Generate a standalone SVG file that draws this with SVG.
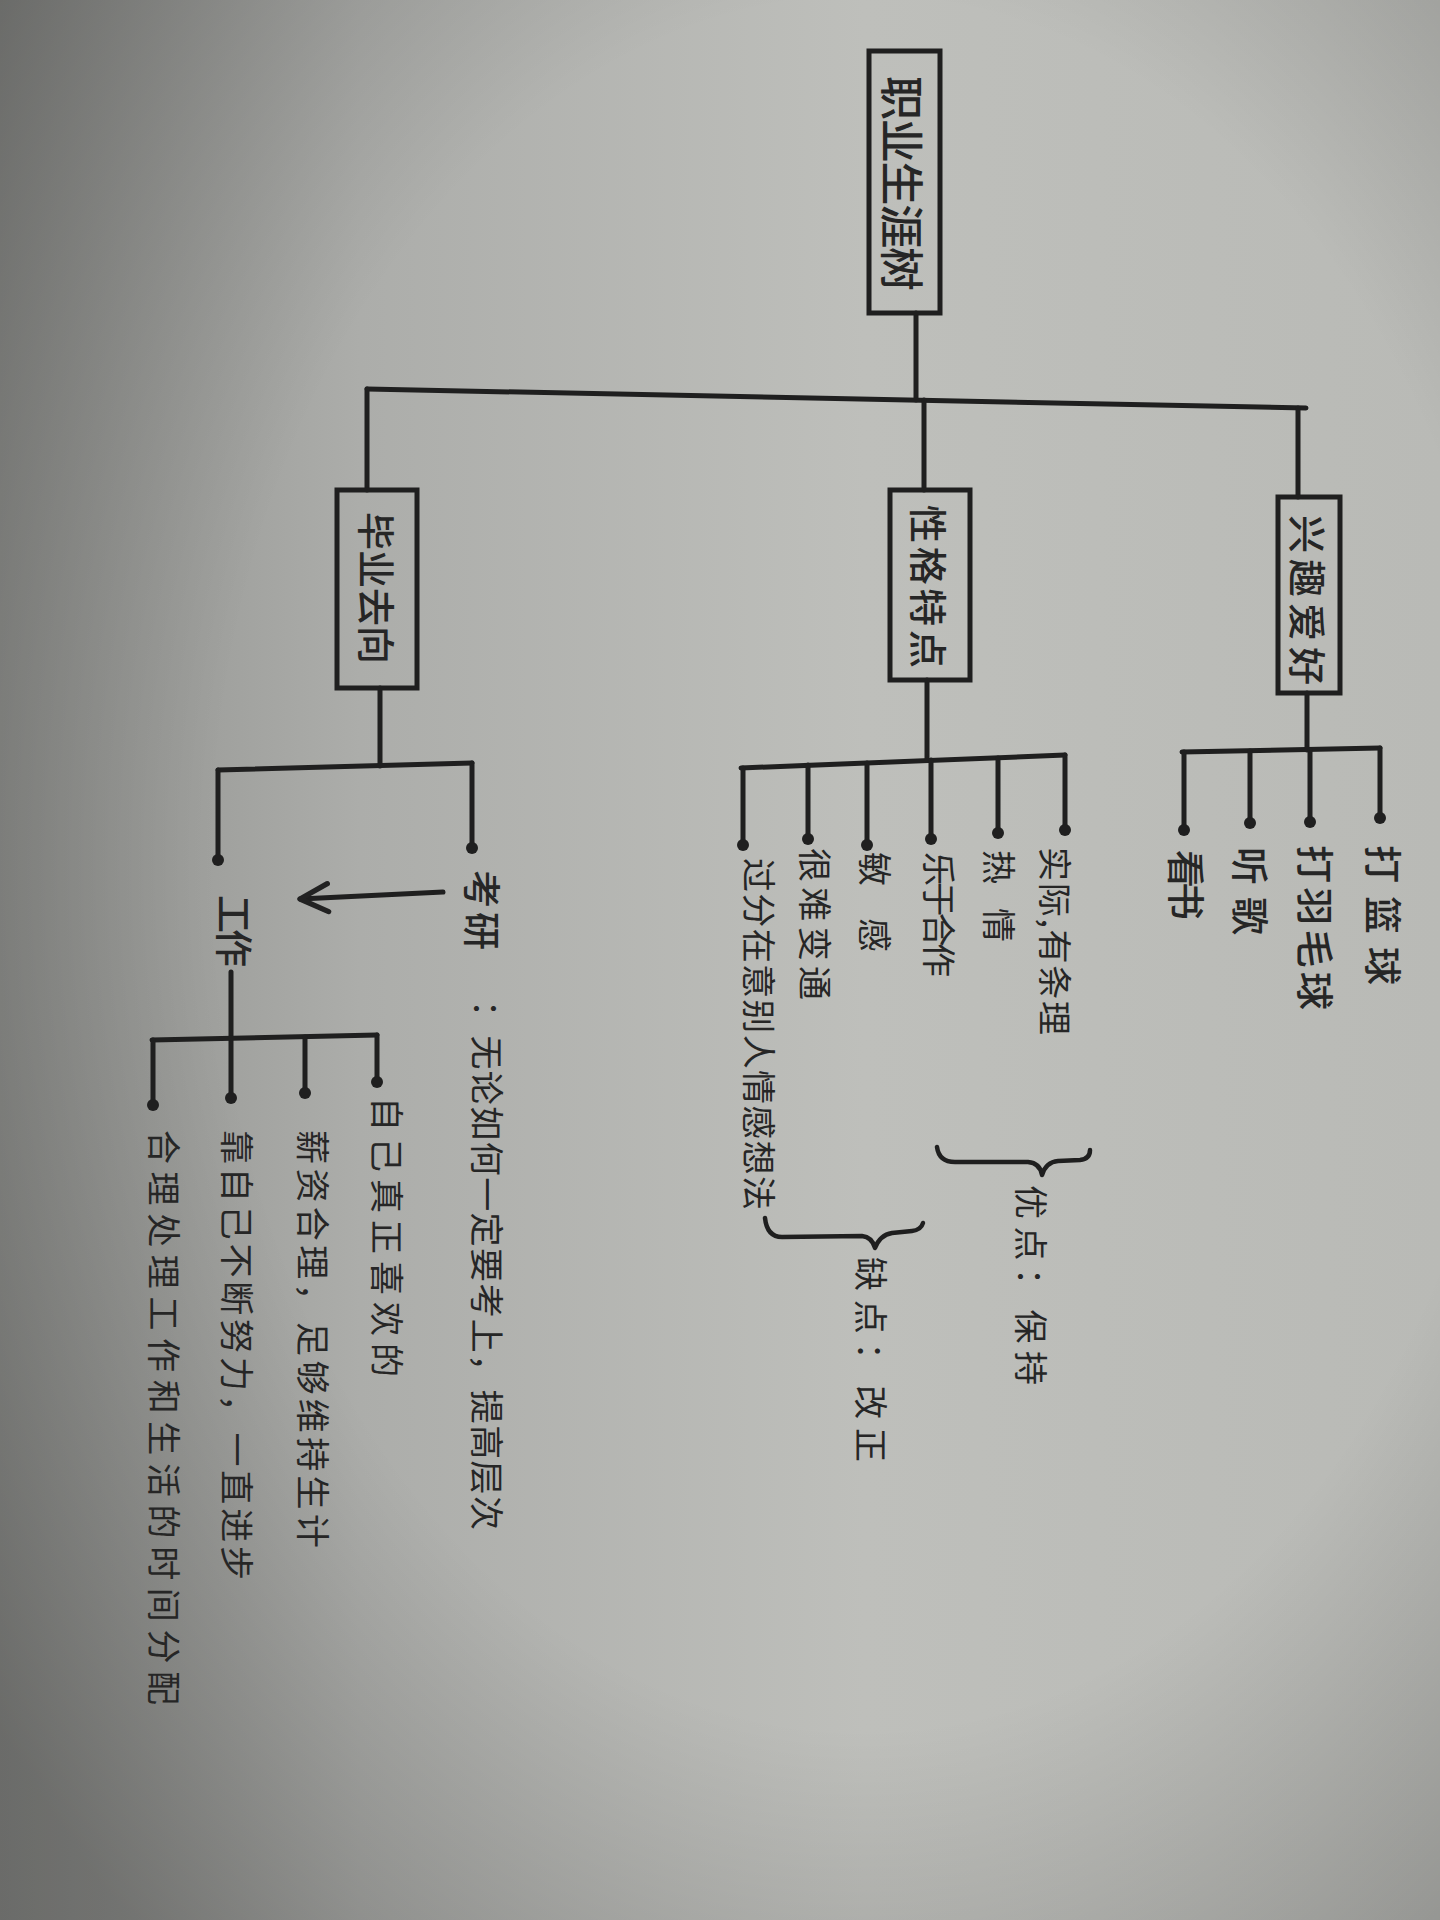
<svg xmlns="http://www.w3.org/2000/svg" width="1440" height="1920" viewBox="0 0 1440 1920">
<defs>
<linearGradient id="paper" x1="0" y1="0" x2="1" y2="0">
<stop offset="0" stop-color="#8e8f8c"/>
<stop offset="0.25" stop-color="#acadaa"/>
<stop offset="0.6" stop-color="#bebfbb"/>
<stop offset="1" stop-color="#b9bab6"/>
</linearGradient>
<radialGradient id="vig" cx="0.6" cy="0.45" r="0.75">
<stop offset="0.6" stop-color="#000" stop-opacity="0"/>
<stop offset="1" stop-color="#000" stop-opacity="0.25"/>
</radialGradient>
<marker id="arr" viewBox="0 0 20 20" refX="18" refY="10" markerWidth="7" markerHeight="7" orient="auto" markerUnits="strokeWidth">
<path d="M2 2 L18 10 L2 18" fill="none" stroke="#222" stroke-width="3" stroke-linecap="round" stroke-linejoin="round"/>
</marker>
</defs>
<style>
.ln{stroke:#1f1f1f;stroke-width:5;fill:none;stroke-linecap:round;stroke-linejoin:round}
.br{stroke:#1f1f1f;stroke-width:4.5;fill:none;stroke-linecap:round;stroke-linejoin:round}
.box{fill:none;stroke:#1f1f1f;stroke-width:5}
.dot{fill:#1f1f1f}
.t{font-family:"Noto Sans CJK SC","Noto Sans CJK JP",sans-serif;fill:#262626;dominant-baseline:central}
.h{font-size:44px;font-weight:500}
.m{font-size:38px;font-weight:500}
.s{font-size:34px}
</style>
<rect width="1440" height="1920" fill="url(#paper)"/>
<rect width="1440" height="1920" fill="url(#vig)"/>

<g id="connectors">
<path class="ln" d="M916 313 L916 400"/>
<path class="ln" d="M367 389 L1306 408"/>
<path class="ln" d="M367 389 L367 490"/>
<path class="ln" d="M924 400 L924 490"/>
<path class="ln" d="M1298 408 L1298 497"/>
<path class="ln" d="M1307 693 L1307 750"/>
<path class="ln" d="M1182 752 L1380 748"/>
<path class="ln" d="M1184 752 L1184 830"/>
<path class="ln" d="M1250 751 L1250 823"/>
<path class="ln" d="M1310 750 L1310 822"/>
<path class="ln" d="M1380 748 L1380 818"/>
<circle class="dot" cx="1184" cy="830" r="6"/>
<circle class="dot" cx="1250" cy="823" r="6"/>
<circle class="dot" cx="1310" cy="822" r="6"/>
<circle class="dot" cx="1380" cy="818" r="6"/>
<path class="ln" d="M927 680 L927 760"/>
<path class="ln" d="M741 768 L1065 755"/>
<path class="ln" d="M743 768 L743 845"/>
<path class="ln" d="M808 765 L808 839"/>
<path class="ln" d="M867 763 L867 845"/>
<path class="ln" d="M931 760 L931 839"/>
<path class="ln" d="M998 758 L998 833"/>
<path class="ln" d="M1065 755 L1065 830"/>
<circle class="dot" cx="743" cy="845" r="6"/>
<circle class="dot" cx="808" cy="839" r="6"/>
<circle class="dot" cx="867" cy="845" r="6"/>
<circle class="dot" cx="931" cy="839" r="6"/>
<circle class="dot" cx="998" cy="833" r="6"/>
<circle class="dot" cx="1065" cy="830" r="6"/>
<path class="ln" d="M380 688 L380 766"/>
<path class="ln" d="M218 770 L472 763"/>
<path class="ln" d="M218 770 L218 860"/>
<path class="ln" d="M472 763 L472 848"/>
<circle class="dot" cx="218" cy="860" r="6"/>
<circle class="dot" cx="472" cy="848" r="6"/>
<path class="ln" d="M443 892 L300 899" marker-end="url(#arr)"/>
<path class="ln" d="M231 972 L231 1098"/>
<path class="ln" d="M152 1040 L377 1035"/>
<path class="ln" d="M153 1040 L153 1105"/>
<path class="ln" d="M305 1037 L305 1093"/>
<path class="ln" d="M377 1035 L377 1082"/>
<circle class="dot" cx="153" cy="1105" r="6"/>
<circle class="dot" cx="231" cy="1098" r="6"/>
<circle class="dot" cx="305" cy="1093" r="6"/>
<circle class="dot" cx="377" cy="1082" r="6"/>
<path class="br" d="M937 1147 Q939 1162 955 1162 L1028 1162 Q1040 1163 1042 1175 Q1046 1162 1058 1161 L1080 1160 Q1090 1159 1090 1150"/>
<path class="br" d="M765 1218 Q767 1237 782 1237 L862 1236 Q872 1237 875 1248 Q880 1235 892 1233 L912 1231 Q921 1230 923 1223"/>
</g>

<g id="root">
<rect class="box" x="869" y="51" width="71" height="262"/>
<text class="t h" transform="translate(904,76) rotate(90)" textLength="215" lengthAdjust="spacing">职业生涯树</text>
</g>
<g id="graduation">
<rect class="box" x="337" y="490" width="80" height="198"/>
<text class="t m" transform="translate(378,512) rotate(90)" textLength="152" lengthAdjust="spacing">毕业去向</text>
</g>
<g id="traits">
<rect class="box" x="890" y="490" width="80" height="190"/>
<text class="t m" transform="translate(930,505) rotate(90)" textLength="163" lengthAdjust="spacing">性格特点</text>
</g>
<g id="interests">
<rect class="box" x="1278" y="497" width="62" height="196"/>
<text class="t m" transform="translate(1309,515) rotate(90)" textLength="170" lengthAdjust="spacing">兴趣爱好</text>
</g>

<g id="i1"><text class="t m" transform="translate(1385,845) rotate(90)" textLength="140" lengthAdjust="spacing">打篮球</text></g>
<g id="i2"><text class="t m" transform="translate(1317,845) rotate(90)" textLength="165" lengthAdjust="spacing">打羽毛球</text></g>
<g id="i3"><text class="t m" transform="translate(1252,847) rotate(90)" textLength="88" lengthAdjust="spacing">听歌</text></g>
<g id="i4"><text class="t m" transform="translate(1188,850) rotate(90)" textLength="70" lengthAdjust="spacing">看书</text></g>

<g id="c1"><text class="t s" transform="translate(1056,847) rotate(90)" textLength="188" lengthAdjust="spacing">实际,有条理</text></g>
<g id="c2"><text class="t s" transform="translate(1000,850) rotate(90)" textLength="92" lengthAdjust="spacing">热情</text></g>
<g id="c3"><text class="t s" transform="translate(940,852) rotate(90)" textLength="125" lengthAdjust="spacing">乐于合作</text></g>
<g id="c4"><text class="t s" transform="translate(876,852) rotate(90)" textLength="100" lengthAdjust="spacing">敏感</text></g>
<g id="c5"><text class="t s" transform="translate(816,848) rotate(90)" textLength="152" lengthAdjust="spacing">很难变通</text></g>
<g id="c6"><text class="t s" transform="translate(760,858) rotate(90)" textLength="352" lengthAdjust="spacing">过分在意别人情感想法</text></g>

<g id="good"><text class="t s" transform="translate(1032,1185) rotate(90)" textLength="200" lengthAdjust="spacing">优点：保持</text></g>
<g id="bad"><text class="t s" transform="translate(872,1257) rotate(90)" textLength="205" lengthAdjust="spacing">缺点：改正</text></g>

<g id="kaoyan"><text class="t m" transform="translate(484,870) rotate(90)" textLength="80" lengthAdjust="spacing">考研</text></g>
<g id="kaoyan-note"><text class="t s" transform="translate(488,1000) rotate(90)" textLength="530" lengthAdjust="spacing">：无论如何一定要考上，提高层次</text></g>

<g id="work"><text class="t m" transform="translate(236,895) rotate(90)" textLength="72" lengthAdjust="spacing">工作</text></g>
<g id="w1"><text class="t s" transform="translate(388,1097) rotate(90)" textLength="280" lengthAdjust="spacing">自己真正喜欢的</text></g>
<g id="w2"><text class="t s" transform="translate(314,1130) rotate(90)" textLength="418" lengthAdjust="spacing">薪资合理，足够维持生计</text></g>
<g id="w3"><text class="t s" transform="translate(238,1130) rotate(90)" textLength="450" lengthAdjust="spacing">靠自己不断努力，一直进步</text></g>
<g id="w4"><text class="t s" transform="translate(165,1130) rotate(90)" textLength="575" lengthAdjust="spacing">合理处理工作和生活的时间分配</text></g>
</svg>
